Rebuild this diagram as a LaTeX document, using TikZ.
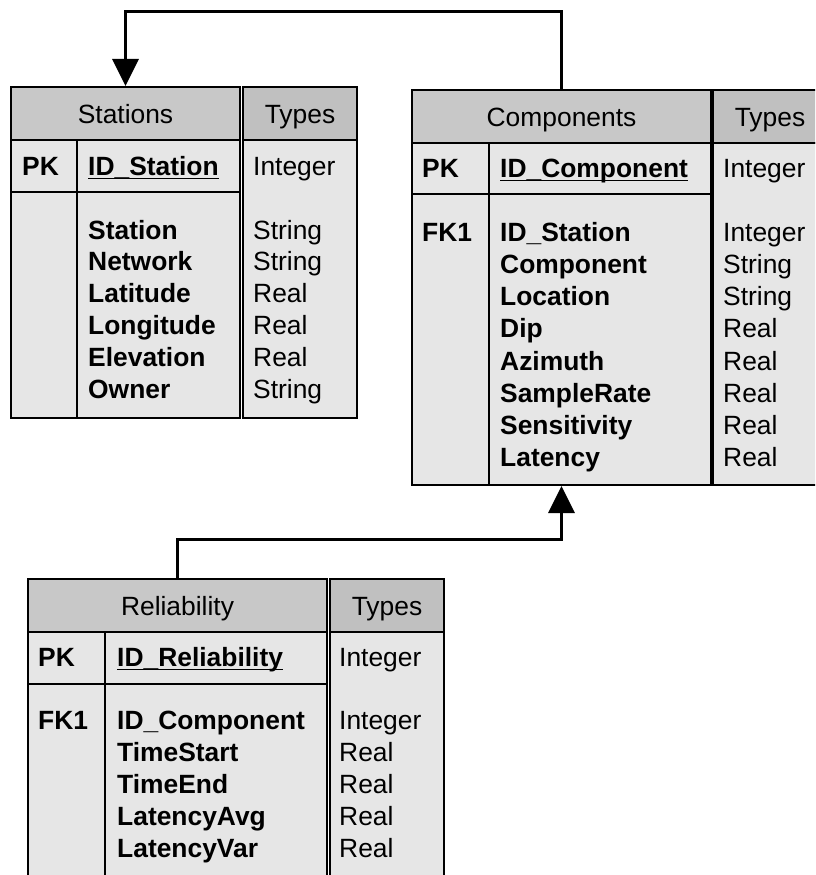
\documentclass[tikz,border=0pt]{standalone}
\usepackage{fontspec}
\setmainfont{Liberation Sans}
\usetikzlibrary{arrows.meta}
\definecolor{hdrgray}{RGB}{200,200,200}
\definecolor{typegray}{RGB}{192,192,192}
\definecolor{bodygray}{RGB}{230,230,230}
\tikzset{
  tbox/.style={draw=black, line width=2, anchor=north west, inner sep=0,
    text height=19, text depth=0,
    font=\fontsize{26.4}{30}\selectfont},
  hdrbox/.style={tbox, fill=hdrgray},
  typehdr/.style={tbox, fill=typegray},
  bodybox/.style={tbox, fill=bodygray},
  tline/.style={line width=2},
  keytxt/.style={anchor=base west, inner sep=0, font=\fontsize{26.4}{30}\selectfont\bfseries},
  typetxt/.style={anchor=base west, inner sep=0, font=\fontsize{26.4}{30}\selectfont},
  conn/.style={line width=3, -{Triangle[width=26,length=27]}},
}
\begin{document}
\begin{tikzpicture}[x=1pt,y=-1pt]
\useasboundingbox (0,0) rectangle (815,875);
\clip (0,0) rectangle (815,875);

% ---------------- Stations ----------------
\node[bodybox, minimum width=229, minimum height=278] (stbody) at (10,139) {};
\node[hdrbox, minimum width=229, minimum height=53] (sthead) at (10,86) {Stations};
\node[bodybox, minimum width=114, minimum height=278] (sttbody) at (242,139) {};
\node[typehdr, minimum width=114, minimum height=53] (stthead) at (242,86) {Types};
\draw[tline] (77,139) -- (77,417);
\draw[tline] (10,192) -- (239,192);
\node[keytxt] (stpk) at (22,175.5) {PK};
\node[keytxt] (stid) at (88,175.5) {ID\_Station};
\draw[line width=1.5] ([yshift=-3]stid.base west) -- ([yshift=-3]stid.base east);
\node[typetxt] (stidt) at (253,175.5) {Integer};
\foreach \n/\t/\y in {1/Station/239, 2/Network/270.8, 3/Latitude/302.6, 4/Longitude/334.4, 5/Elevation/366.2, 6/Owner/398}
  \node[keytxt] (stf\n) at (88,\y) {\t};
\foreach \n/\t/\y in {1/String/239, 2/String/270.8, 3/Real/302.6, 4/Real/334.4, 5/Real/366.2, 6/String/398}
  \node[typetxt] (stt\n) at (253,\y) {\t};

% ---------------- Components ----------------
\node[bodybox, minimum width=299, minimum height=342] (cobody) at (411,142) {};
\node[hdrbox, minimum width=299, minimum height=53] (cohead) at (411,89) {Components};
\node[bodybox, minimum width=114, minimum height=342] (cotbody) at (712,142) {};
\node[typehdr, minimum width=114, minimum height=53] (cothead) at (712,89) {Types};
\draw[tline] (489,142) -- (489,484);
\draw[tline] (411,194) -- (710,194);
\node[keytxt] (copk) at (422,177.5) {PK};
\node[keytxt] (coid) at (500,177.5) {ID\_Component};
\draw[line width=1.5] ([yshift=-3]coid.base west) -- ([yshift=-3]coid.base east);
\node[typetxt] (coidt) at (723,177.5) {Integer};
\node[keytxt] (cofk) at (422,241.5) {FK1};
\foreach \n/\t/\y in {1/ID\_Station/241.5, 2/Component/273.6, 3/Location/305.8, 4/Dip/337.9, 5/Azimuth/370.1, 6/SampleRate/402.2, 7/Sensitivity/434.4, 8/Latency/466.5}
  \node[keytxt] (cof\n) at (500,\y) {\t};
\foreach \n/\t/\y in {1/Integer/241.5, 2/String/273.6, 3/String/305.8, 4/Real/337.9, 5/Real/370.1, 6/Real/402.2, 7/Real/434.4, 8/Real/466.5}
  \node[typetxt] (cot\n) at (723,\y) {\t};

% ---------------- Reliability ----------------
\node[bodybox, minimum width=299, minimum height=280] (rebody) at (27,631) {};
\node[hdrbox, minimum width=299, minimum height=53] (rehead) at (27,578) {Reliability};
\node[bodybox, minimum width=114, minimum height=280] (retbody) at (329,631) {};
\node[typehdr, minimum width=114, minimum height=53] (rethead) at (329,578) {Types};
\draw[tline] (105,631) -- (105,900);
\draw[tline] (27,684) -- (326,684);
\node[keytxt] (repk) at (38,666.5) {PK};
\node[keytxt] (reid) at (117,666.5) {ID\_Reliability};
\draw[line width=1.5] ([yshift=-3]reid.base west) -- ([yshift=-3]reid.base east);
\node[typetxt] (reidt) at (339,666.5) {Integer};
\node[keytxt] (refk) at (38,729.5) {FK1};
\foreach \n/\t/\y in {1/ID\_Component/729.5, 2/TimeStart/761.5, 3/TimeEnd/793.5, 4/LatencyAvg/825.5, 5/LatencyVar/857.5}
  \node[keytxt] (ref\n) at (117,\y) {\t};
\foreach \n/\t/\y in {1/Integer/729.5, 2/Real/761.5, 3/Real/793.5, 4/Real/825.5, 5/Real/857.5}
  \node[typetxt] (ret\n) at (339,\y) {\t};

% ---------------- Connectors ----------------
\coordinate (topbend) at (0,12);
\coordinate (midbend) at (0,539);
\draw[conn] (cohead.north) |- (topbend -| sthead.north) -- (sthead.north);
\draw[conn] (rehead.north) |- (midbend -| cobody.south) -- (cobody.south);
\end{tikzpicture}
\end{document}
